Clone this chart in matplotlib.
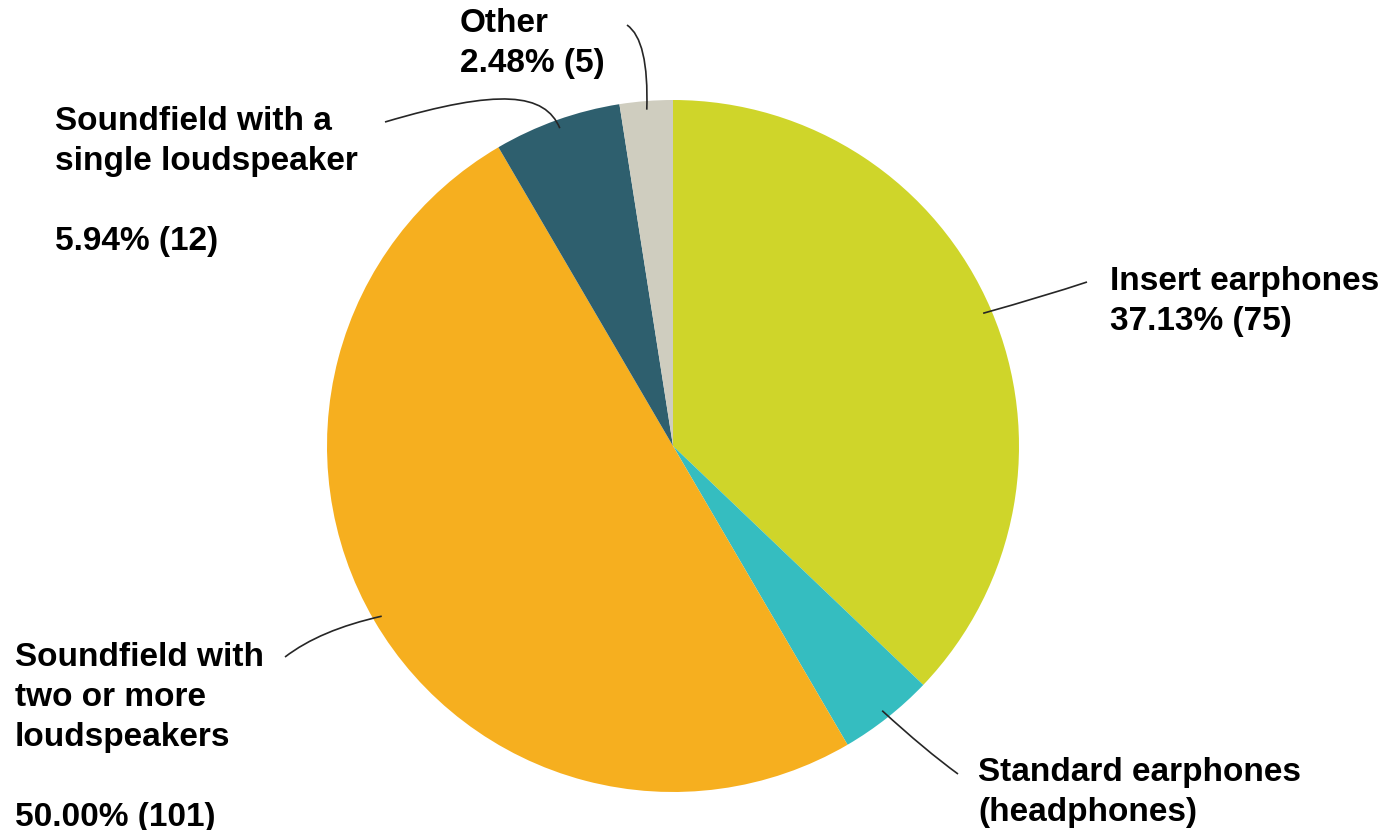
import numpy as np
import matplotlib.pyplot as plt
from matplotlib.path import Path
from matplotlib.patches import PathPatch

# hearing test presentation method (counts)
labels = ["Insert earphones", "Standard earphones\n(headphones)",
          "Soundfield with\ntwo or more\nloudspeakers",
          "Soundfield with a\nsingle loudspeaker", "Other"]
counts = [75, 9, 101, 12, 5]
show_pct = [True, False, True, True, True]
gap_line = [False, False, True, True, False]
colors = ["#CFD52A", "#35BDC0", "#F6AF1F", "#2E5F6E", "#CFCDBF"]

W, H = 1400, 830
fig = plt.figure(figsize=(W / 100, H / 100), dpi=100)
ax = fig.add_axes([0, 0, 1, 1])


def py(y):
    # pixel row (from top) -> data y
    return H - y


cx, cy, R = 673, py(446), 346
wedges, _ = ax.pie(counts, colors=colors, startangle=90, counterclock=False,
                   center=(cx, cy), radius=R, frame=True,
                   wedgeprops=dict(linewidth=0))
ax.set_xlim(0, W)
ax.set_ylim(0, H)
ax.axis("off")

total = sum(counts)
# label layout in pixel coords: text (left, first line top), leader control pts, leader end
text_pos = [(1110, 266), (978, 757), (15, 642), (55, 106), (460, 8)]
ctrl_pts = [[(1045, 296)], [(925, 750)], [(320, 630)],
            [(545, 93), (500, 88)], [(649, 40)]]
line_end = [(1087, 282), (958, 774), (285, 657), (385, 122), (627, 25)]

for i, w in enumerate(wedges):
    ang = np.deg2rad((w.theta1 + w.theta2) / 2)
    start = (cx + 0.975 * R * np.cos(ang), cy + 0.975 * R * np.sin(ang))
    verts = [start] + [(x, py(y)) for x, y in ctrl_pts[i]]
    verts.append((line_end[i][0], py(line_end[i][1])))
    code = Path.CURVE3 if len(ctrl_pts[i]) == 1 else Path.CURVE4
    codes = [Path.MOVETO] + [code] * (len(verts) - 1)
    ax.add_patch(PathPatch(Path(verts, codes), fill=False,
                           edgecolor="#262626", lw=1.2))
    txt = labels[i]
    if show_pct[i]:
        pct = "%.2f%% (%d)" % (100 * counts[i] / total, counts[i])
        txt = txt + ("\n\n" if gap_line[i] else "\n") + pct
    tx, ty = text_pos[i]
    ax.text(tx, py(ty), txt, ha="left", va="top", fontsize=24,
            fontweight="bold", family="Liberation Sans", linespacing=1.37,
            color="black")

fig.savefig("out.png", dpi=100, facecolor="white")
